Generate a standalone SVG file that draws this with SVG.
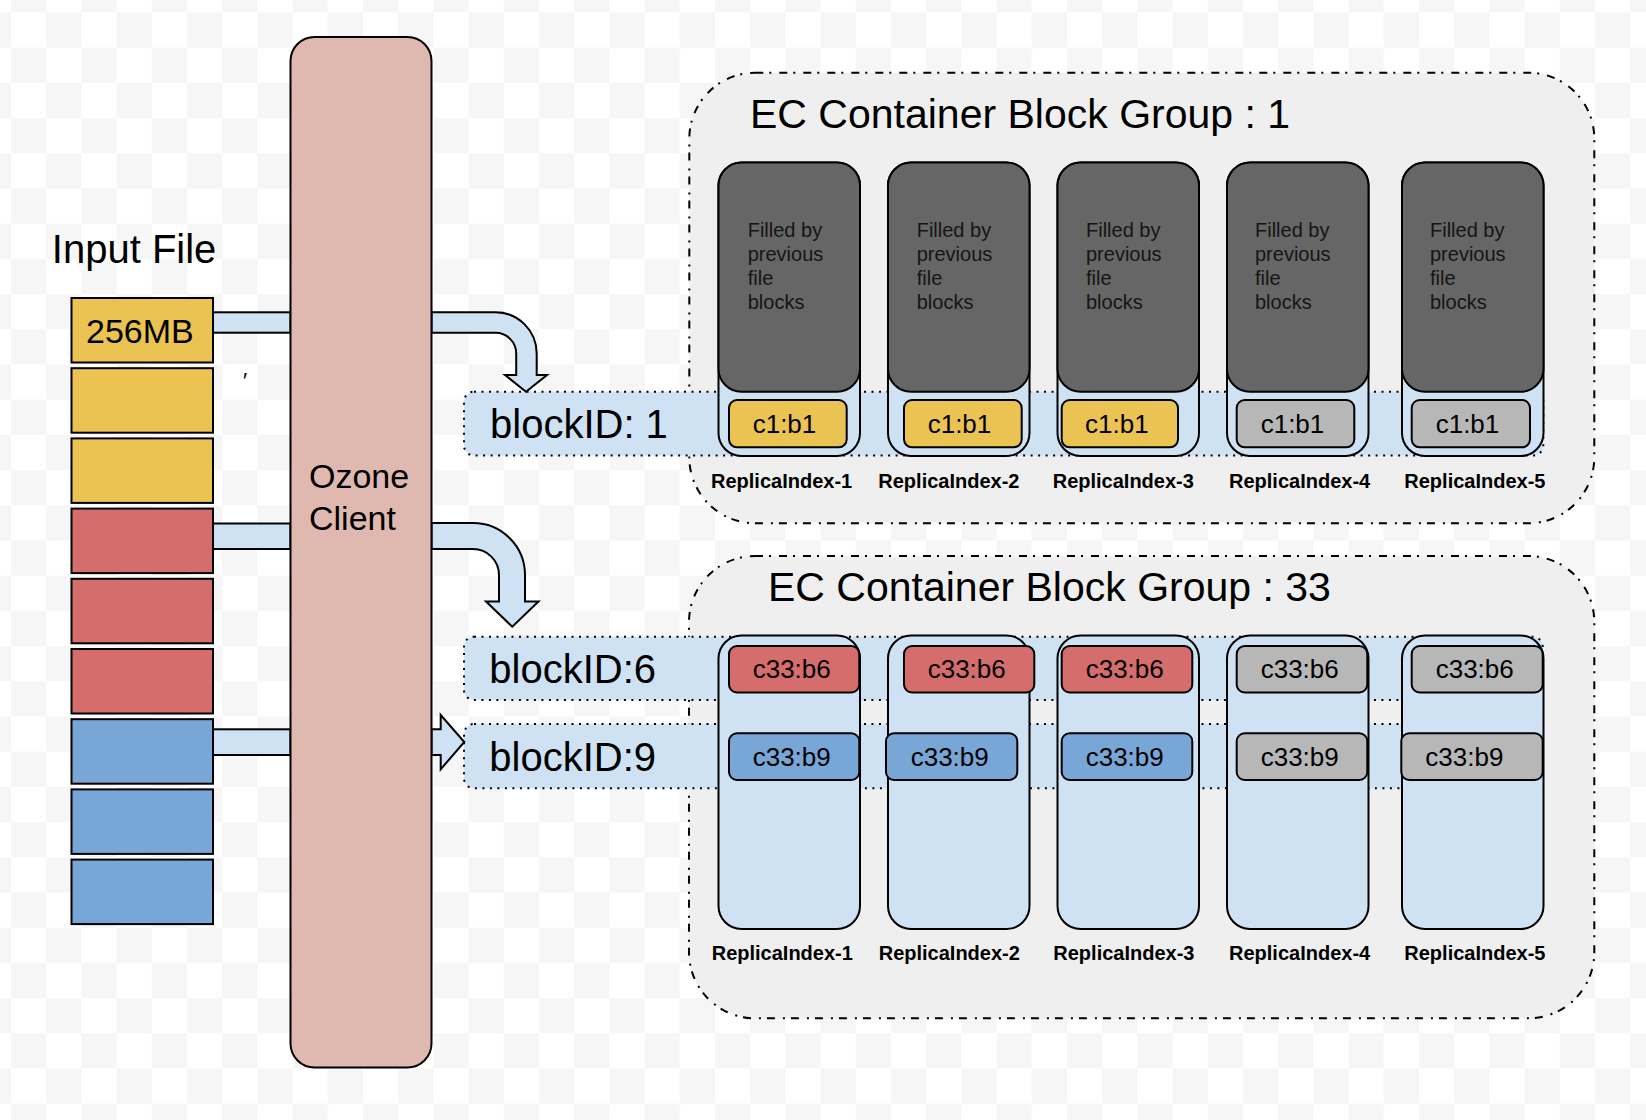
<svg xmlns="http://www.w3.org/2000/svg" width="1646" height="1120" viewBox="0 0 1646 1120">
<defs>
<pattern id="checker" patternUnits="userSpaceOnUse" x="11" y="12.5" width="70.4" height="70.4">
<rect width="70.4" height="70.4" fill="#ffffff"/>
<rect x="35.2" y="0" width="35.2" height="35.2" fill="#f6f6f6"/>
<rect x="0" y="35.2" width="35.2" height="35.2" fill="#f6f6f6"/>
</pattern>
<style>
text{font-family:"Liberation Sans",Arial,sans-serif;fill:#000}
.grp{fill:#efefef;stroke:#000;stroke-width:2;stroke-dasharray:8 6 2 8}
.band{fill:#cfe2f3;stroke:#000;stroke-width:2;stroke-dasharray:2 5.5}
.col{fill:#cfe2f3;stroke:#000;stroke-width:2}
.dark{fill:#666666;stroke:#000;stroke-width:2}
.blk{stroke:#000;stroke-width:2}
.y{fill:#eac353}
.r{fill:#d46d6b}
.b{fill:#78a6d7}
.g{fill:#b7b7b7}
.arrow{fill:#cfe2f3;stroke:#000;stroke-width:2;stroke-linejoin:miter}
.title{font-size:41px}
.bid{font-size:40px}
.blab{font-size:26px}
.fill{font-size:20px;fill:#151515}
.rep{font-size:20px;font-weight:bold}
</style>
</defs>
<rect x="0" y="0" width="1646" height="1120" fill="url(#checker)"/>

<g id="ec-group-1">
<rect class="grp" x="689.3" y="72.7" width="905" height="450.6" rx="66" ry="66"/>
<text class="title" x="750" y="128.3">EC Container Block Group : 1</text>
</g>
<g id="ec-group-33">
<rect class="grp" x="689" y="556" width="905.3" height="462.3" rx="66" ry="66"/>
<text class="title" x="768" y="600.6">EC Container Block Group : 33</text>
</g>

<g id="band-blockID-1">
<rect class="band" x="464" y="391.7" width="1079.3" height="63.8" rx="10" ry="10"/>
<text class="bid" x="490" y="438.3">blockID: 1</text>
</g>
<g id="band-blockID-6">
<rect class="band" x="464" y="636.7" width="1078.7" height="63.3" rx="10" ry="10"/>
<text class="bid" x="489.3" y="682.8">blockID:6</text>
</g>
<g id="band-blockID-9">
<rect class="band" x="464" y="724" width="1078.7" height="64.3" rx="10" ry="10"/>
<text class="bid" x="489.3" y="770.5">blockID:9</text>
</g>

<g id="g1-replica-1">
<rect class="col" x="718.5" y="162.5" width="141.5" height="293.5" rx="23" ry="23"/>
<rect class="dark" x="718.5" y="162.5" width="141.5" height="229.3" rx="23" ry="23"/>
<text class="fill"><tspan x="747.7" y="236.7">Filled by</tspan><tspan x="747.7" y="260.7">previous</tspan><tspan x="747.7" y="284.7">file</tspan><tspan x="747.7" y="308.5">blocks</tspan></text>
<rect class="blk y" x="729" y="400" width="117.7" height="47.3" rx="8" ry="8"/>
<text class="blab" x="752.7" y="433.3">c1:b1</text>
<text class="rep" x="711" y="487.7">ReplicaIndex-1</text>
</g>
<g id="g1-replica-2">
<rect class="col" x="888" y="162.5" width="141.5" height="293.5" rx="23" ry="23"/>
<rect class="dark" x="888" y="162.5" width="141.5" height="229.3" rx="23" ry="23"/>
<text class="fill"><tspan x="916.7" y="236.7">Filled by</tspan><tspan x="916.7" y="260.7">previous</tspan><tspan x="916.7" y="284.7">file</tspan><tspan x="916.7" y="308.5">blocks</tspan></text>
<rect class="blk y" x="904" y="400" width="117.7" height="47.3" rx="8" ry="8"/>
<text class="blab" x="927.7" y="433.3">c1:b1</text>
<text class="rep" x="878.3" y="487.7">ReplicaIndex-2</text>
</g>
<g id="g1-replica-3">
<rect class="col" x="1057.5" y="162.5" width="141.5" height="293.5" rx="23" ry="23"/>
<rect class="dark" x="1057.5" y="162.5" width="141.5" height="229.3" rx="23" ry="23"/>
<text class="fill"><tspan x="1086" y="236.7">Filled by</tspan><tspan x="1086" y="260.7">previous</tspan><tspan x="1086" y="284.7">file</tspan><tspan x="1086" y="308.5">blocks</tspan></text>
<rect class="blk y" x="1061.7" y="400" width="116.3" height="47.3" rx="8" ry="8"/>
<text class="blab" x="1085" y="433.3">c1:b1</text>
<text class="rep" x="1052.7" y="487.7">ReplicaIndex-3</text>
</g>
<g id="g1-replica-4">
<rect class="col" x="1227" y="162.5" width="141.5" height="293.5" rx="23" ry="23"/>
<rect class="dark" x="1227" y="162.5" width="141.5" height="229.3" rx="23" ry="23"/>
<text class="fill"><tspan x="1255" y="236.7">Filled by</tspan><tspan x="1255" y="260.7">previous</tspan><tspan x="1255" y="284.7">file</tspan><tspan x="1255" y="308.5">blocks</tspan></text>
<rect class="blk g" x="1236.7" y="400" width="117.6" height="47.3" rx="8" ry="8"/>
<text class="blab" x="1260.7" y="433.3">c1:b1</text>
<text class="rep" x="1229" y="487.7">ReplicaIndex-4</text>
</g>
<g id="g1-replica-5">
<rect class="col" x="1402" y="162.5" width="141.5" height="293.5" rx="23" ry="23"/>
<rect class="dark" x="1402" y="162.5" width="141.5" height="229.3" rx="23" ry="23"/>
<text class="fill"><tspan x="1430" y="236.7">Filled by</tspan><tspan x="1430" y="260.7">previous</tspan><tspan x="1430" y="284.7">file</tspan><tspan x="1430" y="308.5">blocks</tspan></text>
<rect class="blk g" x="1411.7" y="400" width="118.3" height="47.3" rx="8" ry="8"/>
<text class="blab" x="1435.7" y="433.3">c1:b1</text>
<text class="rep" x="1404.3" y="487.7">ReplicaIndex-5</text>
</g>

<g id="g33-replica-1">
<rect class="col" x="718.5" y="635.5" width="141.5" height="293.5" rx="23" ry="23"/>
<rect class="blk r" x="729" y="646" width="130.3" height="46.5" rx="8" ry="8"/>
<text class="blab" x="752.7" y="678.3">c33:b6</text>
<rect class="blk b" x="729" y="733.3" width="130.3" height="46.7" rx="8" ry="8"/>
<text class="blab" x="752.7" y="766">c33:b9</text>
<text class="rep" x="711.7" y="960.3">ReplicaIndex-1</text>
</g>
<g id="g33-replica-2">
<rect class="col" x="888" y="635.5" width="141.5" height="293.5" rx="23" ry="23"/>
<rect class="blk r" x="904" y="646" width="130.3" height="46.5" rx="8" ry="8"/>
<text class="blab" x="927.7" y="678.3">c33:b6</text>
<rect class="blk b" x="886" y="733.3" width="131.3" height="46.7" rx="8" ry="8"/>
<text class="blab" x="910.7" y="766">c33:b9</text>
<text class="rep" x="878.7" y="960.3">ReplicaIndex-2</text>
</g>
<g id="g33-replica-3">
<rect class="col" x="1057.5" y="635.5" width="141.5" height="293.5" rx="23" ry="23"/>
<rect class="blk r" x="1061.7" y="646" width="130.6" height="46.5" rx="8" ry="8"/>
<text class="blab" x="1085.7" y="678.3">c33:b6</text>
<rect class="blk b" x="1061.7" y="733.3" width="130.6" height="46.7" rx="8" ry="8"/>
<text class="blab" x="1085.7" y="766">c33:b9</text>
<text class="rep" x="1053.3" y="960.3">ReplicaIndex-3</text>
</g>
<g id="g33-replica-4">
<rect class="col" x="1227" y="635.5" width="141.5" height="293.5" rx="23" ry="23"/>
<rect class="blk g" x="1236.7" y="646" width="130.6" height="46.5" rx="8" ry="8"/>
<text class="blab" x="1260.7" y="678.3">c33:b6</text>
<rect class="blk g" x="1236.7" y="733.3" width="130.6" height="46.7" rx="8" ry="8"/>
<text class="blab" x="1260.7" y="766">c33:b9</text>
<text class="rep" x="1229" y="960.3">ReplicaIndex-4</text>
</g>
<g id="g33-replica-5">
<rect class="col" x="1402" y="635.5" width="141.5" height="293.5" rx="23" ry="23"/>
<rect class="blk g" x="1411.7" y="646" width="131" height="46.5" rx="8" ry="8"/>
<text class="blab" x="1435.7" y="678.3">c33:b6</text>
<rect class="blk g" x="1401.3" y="733.3" width="141.4" height="46.7" rx="8" ry="8"/>
<text class="blab" x="1425.3" y="766">c33:b9</text>
<text class="rep" x="1404.3" y="960.3">ReplicaIndex-5</text>
</g>

<g id="connectors">
<rect class="arrow" x="213" y="312.3" width="77.5" height="20.4"/>
<rect class="arrow" x="213" y="523.5" width="77.5" height="25.5"/>
<rect class="arrow" x="213" y="729.3" width="77.5" height="25.7"/>
<path class="arrow" d="M431.5,312.3 H495.5 A41.2,41.2 0 0 1 536.7,353.5 V375 H547 L526,391.7 L505,375 H516.2 V353.5 A20.7,20.7 0 0 0 495.5,332.8 H431.5 Z"/>
<path class="arrow" d="M431.5,523 H473 A52,52 0 0 1 525,575 V601.5 H538.5 L512.3,626.7 L486,601.5 H499 V575 A26,26 0 0 0 473,549 H431.5 Z"/>
<path class="arrow" d="M431.5,729.3 H440.7 V715 L464.3,742 L440.7,769.3 V755 H431.5 Z"/>
</g>

<g id="input-file">
<text x="51.8" y="262.5" style="font-size:40px">Input File</text>
<rect class="blk y" x="71.5" y="298" width="141.5" height="64.5"/>
<text x="86" y="343" style="font-size:34px">256MB</text>
<rect class="blk y" x="71.5" y="368.2" width="141.5" height="64.5"/>
<rect class="blk y" x="71.5" y="438.4" width="141.5" height="64.5"/>
<rect class="blk r" x="71.5" y="508.6" width="141.5" height="64.5"/>
<rect class="blk r" x="71.5" y="578.8" width="141.5" height="64.5"/>
<rect class="blk r" x="71.5" y="649" width="141.5" height="64.5"/>
<rect class="blk b" x="71.5" y="719.2" width="141.5" height="64.5"/>
<rect class="blk b" x="71.5" y="789.4" width="141.5" height="64.5"/>
<rect class="blk b" x="71.5" y="859.6" width="141.5" height="64.5"/>
<text x="243" y="388" style="font-size:22px">′</text>
</g>

<g id="ozone-client">
<rect x="290.5" y="37" width="141" height="1030.5" rx="24" ry="24" fill="#dfb9b0" stroke="#000" stroke-width="2"/>
<text x="309" y="488" style="font-size:34px">Ozone</text>
<text x="309" y="530" style="font-size:34px">Client</text>
</g>
</svg>
